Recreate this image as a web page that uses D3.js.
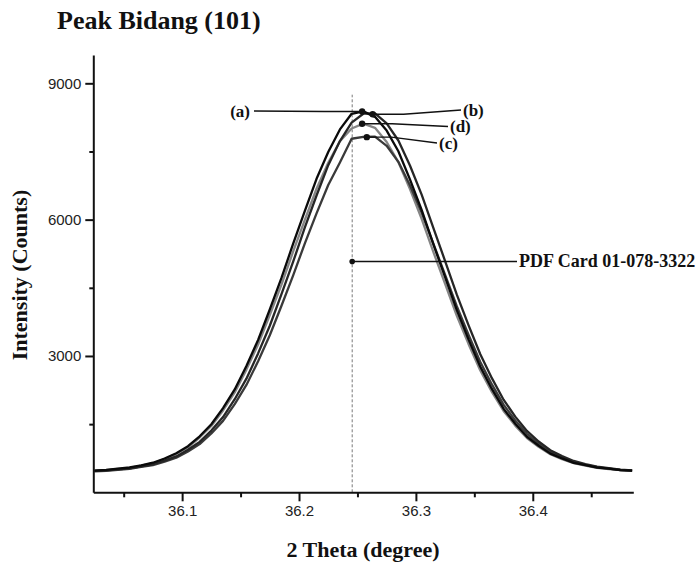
<!DOCTYPE html>
<html><head><meta charset="utf-8">
<script src="https://cdn.jsdelivr.net/npm/d3@7"></script>
<style>
html,body{margin:0;padding:0;background:#fff;}
svg{display:block;}
</style></head>
<body>
<svg id="chart" width="699" height="565"></svg>
<script>
// ---- data ----
const twoTheta = [36.025,36.035,36.045,36.055,36.065,36.075,36.085,36.095,36.105,36.115,
  36.125,36.135,36.145,36.155,36.165,36.175,36.185,36.195,36.205,36.215,
  36.225,36.235,36.245,36.255,36.265,36.275,36.285,36.295,36.305,36.315,
  36.325,36.335,36.345,36.355,36.365,36.375,36.385,36.395,36.405,36.415,
  36.425,36.435,36.445,36.455,36.465,36.475,36.485];
const seriesA = [478,492,519,546,595,651,744,861,1015,1232,1498,1851,2263,2781,3352,4022,4718,5471,6193,6899,7490,7985,8330,
  8382,8262,7960,7505,6880,6210,5455,4733,4008,3366,2768,2275,1840,1507,1222,1024,852,745,649,596,545,519,490,477];
const seriesB = [470,481,505,528,571,617,696,790,935,1110,1358,1656,2048,2500,3056,3665,4361,5075,5828,6531,7198,7728,8135,8331,
  8336,8120,7742,7185,6545,5815,5088,4349,3677,3044,2512,2038,1665,1350,1118,927,796,690,622,566,532,501,484];
const seriesC = [463,474,495,517,557,600,674,762,898,1061,1294,1572,1940,2363,2884,3455,4106,4774,5479,6139,6762,7258,7780,7822,
  7828,7625,7272,6750,6150,5467,4786,4094,3466,2872,2374,1930,1581,1286,1069,890,768,668,605,552,521,491,476];
const seriesD = [474,486,513,538,588,640,731,846,990,1205,1458,1801,2198,2700,3251,3899,4571,5300,5996,6680,7250,7725,8005,
  8112,8020,7708,7265,6665,6010,5285,4585,3885,3265,2686,2210,1790,1468,1194,1000,836,731,641,587,538,512,487,473];
const seriesNames = ["(a)","(b)","(c)","(d)"];
const peakX = [36.254, 36.263, 36.258, 36.254];
const peakY = [8380, 8320, 7815, 8110];
const pdfCardLabel = "PDF Card 01-078-3322";
const pdfCardX = 36.2455;
const pdfCardY = 5080;
const xMajorTicks = [36.1, 36.2, 36.3, 36.4];
const xMinorTicks = [36.05, 36.15, 36.25, 36.35, 36.45];
const yMajorTicks = [3000, 6000, 9000];
const yMinorTicks = [1500, 4500, 7500];
const titleText = "Peak Bidang (101)";
const xTitle = "2 Theta (degree)";
const yTitle = "Intensity (Counts)";

// ---- layout ----
const svg = d3.select("#chart");
const x = d3.scaleLinear().domain([36.024, 36.486]).range([93.3, 633.3]);
const y = d3.scaleLinear().domain([0, 9623]).range([492.3, 55]);
const serif = "'Liberation Serif','Times New Roman',serif";
const sans = "'Liberation Sans',Arial,sans-serif";

svg.append("text").attr("x", 57).attr("y", 29).attr("font-family", serif)
  .attr("font-weight", "bold").attr("font-size", 26).attr("fill", "#111").text(titleText);

// dashed reference line
svg.append("line").attr("x1", x(pdfCardX)).attr("x2", x(pdfCardX))
  .attr("y1", y(0)).attr("y2", y(8750)).attr("stroke", "#555").attr("stroke-width", 0.8)
  .attr("stroke-dasharray", "3,2");

// curves
const all = [seriesA, seriesB, seriesC, seriesD];
const colors = ["#0a0a0a", "#262626", "#3a3a3a", "#858585"];
const drawOrder = [3, 2, 1, 0];
const line = d3.line().x((d, i) => x(twoTheta[i])).y(d => y(d));
drawOrder.forEach(k => {
  svg.append("path").datum(all[k]).attr("d", line).attr("fill", "none")
    .attr("stroke", colors[k]).attr("stroke-width", 2.3).attr("stroke-linejoin", "round");
});

// axes
const gx = svg.append("g").attr("transform", `translate(0,${y(0)})`);
gx.call(d3.axisBottom(x).tickValues(xMajorTicks).tickSize(9).tickSizeOuter(0).tickFormat(d3.format(".1f")));
gx.append("g").call(d3.axisBottom(x).tickValues(xMinorTicks).tickSize(5).tickSizeOuter(0).tickFormat(""))
  .select(".domain").remove();
gx.selectAll(".domain").attr("stroke", "#111").attr("stroke-width", 2);
gx.selectAll(".tick line").attr("stroke", "#111").attr("stroke-width", 2);
gx.selectAll(".tick text").attr("font-family", sans).attr("font-size", 15).attr("fill", "#222").attr("dy", "0.75em");

const gy = svg.append("g").attr("transform", `translate(${x(36.024)},0)`);
gy.call(d3.axisLeft(y).tickValues(yMajorTicks).tickSize(8).tickSizeOuter(0).tickFormat(d3.format("d")));
gy.append("g").call(d3.axisLeft(y).tickValues(yMinorTicks).tickSize(4).tickSizeOuter(0).tickFormat(""))
  .select(".domain").remove();
gy.selectAll(".domain").attr("stroke", "#111").attr("stroke-width", 2);
gy.selectAll(".tick line").attr("stroke", "#111").attr("stroke-width", 2);
gy.selectAll(".tick text").attr("font-family", sans).attr("font-size", 15).attr("fill", "#222").attr("x", -12);

// axis titles
svg.append("text").attr("x", 363).attr("y", 557).attr("text-anchor", "middle")
  .attr("font-family", serif).attr("font-weight", "bold").attr("font-size", 22).attr("fill", "#111").text(xTitle);
svg.append("text").attr("transform", "translate(27,275) rotate(-90)").attr("text-anchor", "middle")
  .attr("font-family", serif).attr("font-weight", "bold").attr("font-size", 22).attr("fill", "#111").text(yTitle);

// annotations (label text anchors, in pixels)
const labelLayout = [
  {anchor: "end",   end: 254, tx: 250, ty: 111},
  {anchor: "start", end: 461, tx: 463, ty: 110},
  {anchor: "start", end: 437, tx: 439, ty: 143},
  {anchor: "start", end: 448, tx: 450, ty: 126.5}
];
seriesNames.forEach((name, k) => {
  const px = x(peakX[k]), py = y(peakY[k]);
  const L = labelLayout[k];
  svg.append("polyline")
    .attr("points", `${px},${py} ${px + 0.35 * (L.end - px)},${py} ${L.end},${L.ty}`)
    .attr("fill", "none").attr("stroke", "#111").attr("stroke-width", 1.4);
  svg.append("circle").attr("cx", px).attr("cy", py).attr("r", 3.2).attr("fill", "#111");
  svg.append("text").attr("x", L.tx).attr("y", L.ty).attr("dy", "0.33em")
    .attr("text-anchor", L.anchor)
    .attr("font-family", serif).attr("font-weight", "bold").attr("font-size", 17).attr("fill", "#111").text(name);
});
{
  const px = x(pdfCardX), py = y(pdfCardY);
  svg.append("line").attr("x1", px).attr("y1", py).attr("x2", 517).attr("y2", py)
    .attr("stroke", "#111").attr("stroke-width", 1.4);
  svg.append("circle").attr("cx", px).attr("cy", py).attr("r", 2.8).attr("fill", "#111");
  svg.append("text").attr("x", 519).attr("y", py).attr("dy", "0.33em")
    .attr("font-family", serif).attr("font-weight", "bold").attr("font-size", 18).attr("fill", "#111").text(pdfCardLabel);
}
</script>
</body></html>
